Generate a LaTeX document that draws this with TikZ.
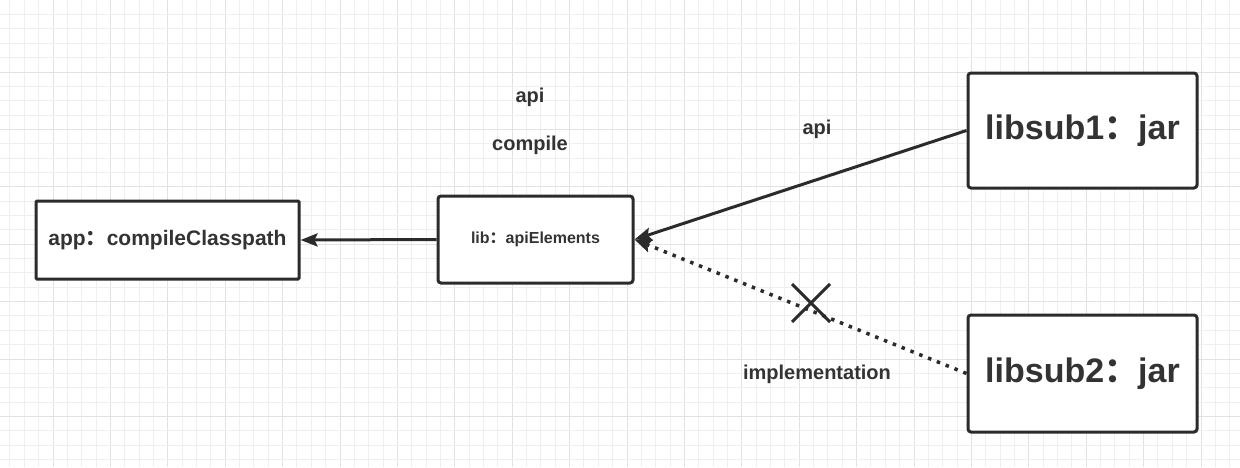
\documentclass[tikz,border=0pt]{standalone}
\usepackage{fontspec}
\setmainfont{Liberation Sans}
\newfontfamily\cjk{Noto Sans CJK SC}
\usetikzlibrary{arrows.meta,calc}
\newcommand{\fcolon}{{\cjk ：}}
\definecolor{linec}{HTML}{2B2B2B}
\definecolor{textc}{HTML}{333333}
\definecolor{gridminor}{HTML}{EFEFEF}
\definecolor{gridmajor}{HTML}{E2E2E2}
\begin{document}
\begin{tikzpicture}[x=1pt,y=-1pt,
  box/.style={draw=linec, line width=3pt, rounded corners=3pt, fill=white, text=textc, inner sep=0pt, align=center},
  lbl/.style={text=textc, font=\fontsize{20}{24}\selectfont\bfseries, inner sep=0pt},
  conn/.style={draw=linec, line width=3pt, -{Stealth[length=17pt,width=13pt,inset=3pt]}},
  dotconn/.style={draw=linec, line width=3.5pt, dash pattern=on 3.5pt off 6pt, -{Stealth[length=17pt,width=13pt,inset=3pt]}},
  gridmin/.style={draw=gridminor, line width=1pt},
  gridmaj/.style={draw=gridmajor, line width=1pt},
  crossmark/.style={draw=linec, line width=3pt}
]
\useasboundingbox (0,0) rectangle (1240,467);
\fill[white] (0,0) rectangle (1240,467);
% grid
\foreach \i in {0,...,86} {
  \pgfmathsetmacro\gx{floor(9.95+14.35*\i+0.01)+0.5}
  \pgfmathtruncatemacro\gm{mod(\i,4)}
  \ifnum\gm=3 \draw[gridmaj] (\gx,0) -- (\gx,467); \else \draw[gridmin] (\gx,0) -- (\gx,467); \fi
}
\foreach \i in {0,...,32} {
  \pgfmathsetmacro\gy{floor(14.6+14.35*\i+0.01)+0.5}
  \pgfmathtruncatemacro\gm{mod(\i,4)}
  \ifnum\i>0 \ifnum\gm=0 \draw[gridmaj] (0,\gy) -- (1240,\gy); \else \draw[gridmin] (0,\gy) -- (1240,\gy); \fi
  \else \draw[gridmin] (0,\gy) -- (1240,\gy); \fi
}

% boxes
\node[box, minimum width=263pt, minimum height=78pt, rounded corners=1pt, font=\fontsize{21}{25}\selectfont\bfseries] (app) at (167.5,240) {app\fcolon compileClasspath};
\node[box, minimum width=195pt, minimum height=87pt, font=\fontsize{16}{19}\selectfont\bfseries] (lib) at (535.5,239.5) {lib\fcolon apiElements};
\node[box, minimum width=229pt, minimum height=115pt, font=\fontsize{34}{40}\selectfont\bfseries] (s1) at (1082.5,130.5) {libsub1\fcolon jar};
\node[box, minimum width=229pt, minimum height=117pt, font=\fontsize{34}{40}\selectfont\bfseries] (s2) at (1082.5,373.5) {libsub2\fcolon jar};

% labels
\node[lbl] (lapi) at (530,97) {api};
\node[lbl] (lcompile) at (530,145) {compile};
\node[lbl] (lapi2) at (817,129) {api};
\node[lbl] (limpl) at (817,374) {implementation};

% connectors
\draw[conn] (lib.west) -- (app.east);
\draw[conn] (s1.west) -- (lib.east);
\draw[dotconn] (s2.west) -- (lib.east);

% cross
\coordinate (xc) at (811,303);
\draw[crossmark] ($(xc)+(-19,-19)$) -- ($(xc)+(19,19)$);
\draw[crossmark] ($(xc)+(19,-19)$) -- ($(xc)+(-19,19)$);
\end{tikzpicture}
\end{document}
